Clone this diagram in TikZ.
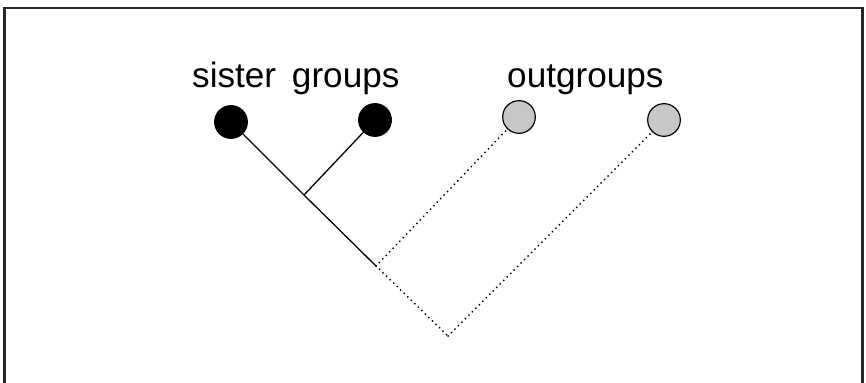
\documentclass[tikz,border=0pt]{standalone}
\usepackage{fontspec}
\setmainfont{Liberation Sans}

\begin{document}
\begin{tikzpicture}[
  x=1cm, y=1cm,
  every node/.style={inner sep=1pt},
  taxon/.style={circle, draw, line width=1pt, minimum size=0.98cm, inner sep=0pt},
  sister/.style={taxon, fill=black},
  outgrp/.style={taxon, fill=black!22},
  edge/.style={draw, line width=1.1pt},
  dedge/.style={draw, line width=1.7pt, line cap=round, dash pattern=on 0pt off 4.2pt},
  grouplabel/.style={anchor=base west, inner sep=0pt, font=\fontsize{30}{36}\selectfont},
  frame/.style={draw, line width=2.5pt, black!85}]

  \useasboundingbox (0,0) rectangle (25.98,11.49);

  % open frame, the bottom edge is cut off
  \draw[frame] (0.135,0) -- (0.135,11.25) -- (25.875,11.25) -- (25.875,0);

  % terminal taxa
  \node[sister] (a) at (6.93,7.83)  {};
  \node[sister] (b) at (11.25,7.89) {};
  \node[outgrp] (c) at (15.57,7.98) {};
  \node[outgrp] (d) at (19.92,7.89) {};

  % branching points
  \coordinate (n1)   at (9.12,5.64);
  \coordinate (n2)   at (11.28,3.51);
  \coordinate (root) at (13.44,1.41);

  % branches
  \draw[edge]  (a)  -- (n1);
  \draw[edge]  (b)  -- (n1);
  \draw[edge]  (n1) -- (n2);
  \draw[dedge] (n2) -- (c);
  \draw[dedge] (n2) -- (root);
  \draw[dedge] (root) -- (d);

  % labels printed inside the picture
  \node[grouplabel] (sislab) at (5.76,8.85)  {sister\hspace{0.45em}groups};
  \node[grouplabel] (outlab) at (15.21,8.85) {outgroups};
\end{tikzpicture}
\end{document}
